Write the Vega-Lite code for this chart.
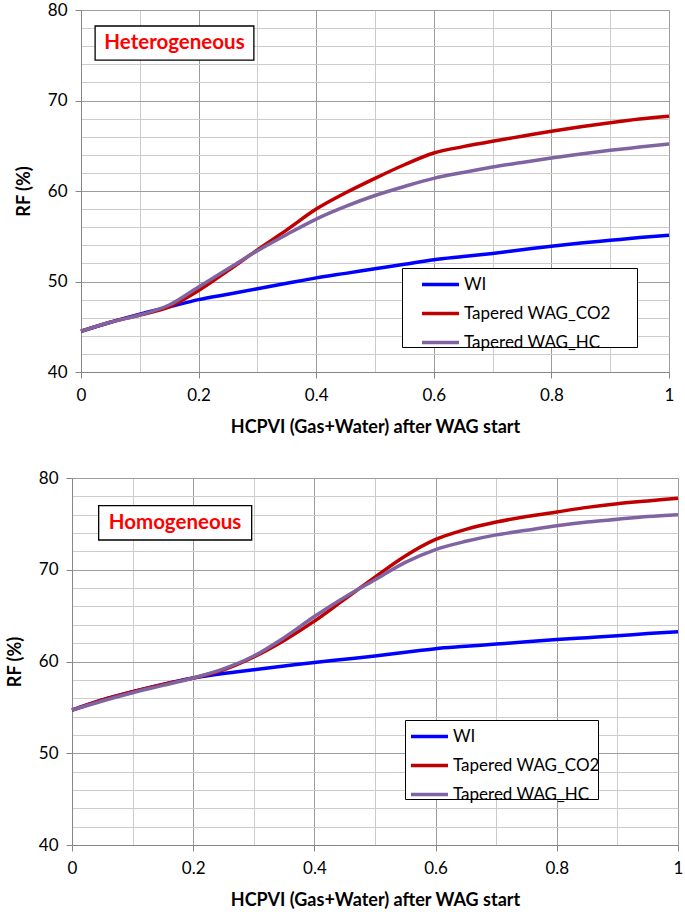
{
  "$schema": "https://vega.github.io/schema/vega-lite/v6.json",
  "background": "white",
  "padding": {"left": 6, "top": 1, "right": 3, "bottom": 0},
  "spacing": 33,
  "center": true,
  "resolve": {"scale": {"color": "independent"}, "legend": {"color": "independent"}},
  "config": {
    "view": {"stroke": null},
    "font": "Lato",
    "axis": {
      "labelFont": "Lato", "labelFontSize": 17, "labelColor": "black", "labelOverlap": false, "labelFlush": false,
      "titleFont": "Lato", "titleFontSize": 18, "titleFontWeight": "bold", "titleColor": "black",
      "domainColor": "#868686", "tickColor": "#868686", "tickSize": 6, "gridWidth": 1, "format": "~g", "tickCount": 100
    },
    "legend": {
      "strokeColor": "black", "fillColor": "white", "padding": -4,
      "symbolType": "stroke", "symbolSize": 1369, "symbolStrokeWidth": 3.5,
      "labelFont": "Lato", "labelFontSize": 17, "labelColor": "black", "labelOffset": 3, "rowPadding": -8, "labelLimit": 400
    }
  },
  "datasets": {
    "top": [
      {"x": 0, "WI": 44.5, "Tapered WAG_CO2": 44.5, "Tapered WAG_HC": 44.5},
      {"x": 0.05, "WI": 45.5, "Tapered WAG_CO2": 45.5, "Tapered WAG_HC": 45.5},
      {"x": 0.1, "WI": 46.4, "Tapered WAG_CO2": 46.3, "Tapered WAG_HC": 46.3},
      {"x": 0.15, "WI": 47.2, "Tapered WAG_CO2": 47.2, "Tapered WAG_HC": 47.4},
      {"x": 0.2, "WI": 48.0, "Tapered WAG_CO2": 49.0, "Tapered WAG_HC": 49.4},
      {"x": 0.25, "WI": 48.6, "Tapered WAG_CO2": 51.2, "Tapered WAG_HC": 51.4},
      {"x": 0.3, "WI": 49.2, "Tapered WAG_CO2": 53.5, "Tapered WAG_HC": 53.4},
      {"x": 0.35, "WI": 49.8, "Tapered WAG_CO2": 55.7, "Tapered WAG_HC": 55.2},
      {"x": 0.4, "WI": 50.4, "Tapered WAG_CO2": 58.0, "Tapered WAG_HC": 56.9},
      {"x": 0.45, "WI": 50.9, "Tapered WAG_CO2": 59.8, "Tapered WAG_HC": 58.3},
      {"x": 0.5, "WI": 51.4, "Tapered WAG_CO2": 61.4, "Tapered WAG_HC": 59.5},
      {"x": 0.55, "WI": 51.9, "Tapered WAG_CO2": 62.9, "Tapered WAG_HC": 60.5},
      {"x": 0.6, "WI": 52.4, "Tapered WAG_CO2": 64.2, "Tapered WAG_HC": 61.4},
      {"x": 0.65, "WI": 52.75, "Tapered WAG_CO2": 64.9, "Tapered WAG_HC": 62.05},
      {"x": 0.7, "WI": 53.1, "Tapered WAG_CO2": 65.5, "Tapered WAG_HC": 62.65},
      {"x": 0.75, "WI": 53.5, "Tapered WAG_CO2": 66.05, "Tapered WAG_HC": 63.15},
      {"x": 0.8, "WI": 53.9, "Tapered WAG_CO2": 66.6, "Tapered WAG_HC": 63.65},
      {"x": 0.85, "WI": 54.25, "Tapered WAG_CO2": 67.1, "Tapered WAG_HC": 64.1},
      {"x": 0.9, "WI": 54.55, "Tapered WAG_CO2": 67.55, "Tapered WAG_HC": 64.5},
      {"x": 0.95, "WI": 54.85, "Tapered WAG_CO2": 67.95, "Tapered WAG_HC": 64.85},
      {"x": 1, "WI": 55.1, "Tapered WAG_CO2": 68.25, "Tapered WAG_HC": 65.2}
    ],
    "bottom": [
      {"x": 0, "WI": 54.7, "Tapered WAG_CO2": 54.7, "Tapered WAG_HC": 54.7},
      {"x": 0.05, "WI": 55.8, "Tapered WAG_CO2": 55.8, "Tapered WAG_HC": 55.7},
      {"x": 0.1, "WI": 56.7, "Tapered WAG_CO2": 56.7, "Tapered WAG_HC": 56.6},
      {"x": 0.15, "WI": 57.5, "Tapered WAG_CO2": 57.5, "Tapered WAG_HC": 57.4},
      {"x": 0.2, "WI": 58.2, "Tapered WAG_CO2": 58.2, "Tapered WAG_HC": 58.2},
      {"x": 0.25, "WI": 58.7, "Tapered WAG_CO2": 59.1, "Tapered WAG_HC": 59.2},
      {"x": 0.3, "WI": 59.1, "Tapered WAG_CO2": 60.5, "Tapered WAG_HC": 60.6},
      {"x": 0.35, "WI": 59.5, "Tapered WAG_CO2": 62.3, "Tapered WAG_HC": 62.6},
      {"x": 0.4, "WI": 59.9, "Tapered WAG_CO2": 64.4, "Tapered WAG_HC": 64.9},
      {"x": 0.45, "WI": 60.25, "Tapered WAG_CO2": 66.8, "Tapered WAG_HC": 67.0},
      {"x": 0.5, "WI": 60.6, "Tapered WAG_CO2": 69.2, "Tapered WAG_HC": 68.9},
      {"x": 0.55, "WI": 61.0, "Tapered WAG_CO2": 71.5, "Tapered WAG_HC": 70.8},
      {"x": 0.6, "WI": 61.4, "Tapered WAG_CO2": 73.3, "Tapered WAG_HC": 72.2},
      {"x": 0.65, "WI": 61.65, "Tapered WAG_CO2": 74.4, "Tapered WAG_HC": 73.1},
      {"x": 0.7, "WI": 61.9, "Tapered WAG_CO2": 75.2, "Tapered WAG_HC": 73.8},
      {"x": 0.75, "WI": 62.15, "Tapered WAG_CO2": 75.8, "Tapered WAG_HC": 74.3},
      {"x": 0.8, "WI": 62.4, "Tapered WAG_CO2": 76.3, "Tapered WAG_HC": 74.8},
      {"x": 0.85, "WI": 62.6, "Tapered WAG_CO2": 76.8, "Tapered WAG_HC": 75.2},
      {"x": 0.9, "WI": 62.8, "Tapered WAG_CO2": 77.2, "Tapered WAG_HC": 75.5},
      {"x": 0.95, "WI": 63.05, "Tapered WAG_CO2": 77.5, "Tapered WAG_HC": 75.8},
      {"x": 1, "WI": 63.25, "Tapered WAG_CO2": 77.8, "Tapered WAG_HC": 76.0}
    ]
  },
  "vconcat": [
    {
      "width": 588,
      "height": 362,
      "data": {"name": "top"},
      "transform": [{"fold": ["WI", "Tapered WAG_CO2", "Tapered WAG_HC"], "as": ["series", "rf"]}],
      "layer": [
        {
          "mark": {"type": "line", "strokeWidth": 3.5, "interpolate": "monotone"},
          "encoding": {
            "x": {
              "field": "x", "type": "quantitative", "title": "HCPVI (Gas+Water) after WAG start",
              "scale": {"domain": [0, 1], "nice": false},
              "axis": {
                "values": [0, 0.1, 0.2, 0.3, 0.4, 0.5, 0.6, 0.7, 0.8, 0.9, 1],
                "labelExpr": "round(datum.value*10) % 2 === 0 ? datum.label : ''",
                "gridColor": {"condition": {"test": "round(datum.value*10) % 2 === 0", "value": "#9C9C9C"}, "value": "#CCCCCC"},
                "tickOpacity": {"condition": {"test": "round(datum.value*10) % 2 === 0", "value": 1}, "value": 0},
                "labelPadding": 9, "titlePadding": 15
              }
            },
            "y": {
              "field": "rf", "type": "quantitative", "title": "RF (%)",
              "scale": {"domain": [40, 80], "nice": false},
              "axis": {
                "values": [40, 42, 44, 46, 48, 50, 52, 54, 56, 58, 60, 62, 64, 66, 68, 70, 72, 74, 76, 78, 80],
                "labelExpr": "datum.value % 10 === 0 ? datum.label : ''",
                "gridColor": {"condition": {"test": "datum.value % 10 === 0", "value": "#9C9C9C"}, "value": "#CCCCCC"},
                "tickOpacity": {"condition": {"test": "datum.value % 10 === 0", "value": 1}, "value": 0},
                "labelPadding": 8, "titlePadding": 14
              }
            },
            "color": {
              "field": "series", "type": "nominal",
              "scale": {"domain": ["WI", "Tapered WAG_CO2", "Tapered WAG_HC"], "range": ["#0000FF", "#C00000", "#8064A2"]},
              "legend": {"title": "\u00a0", "titleOrient": "right", "titlePadding": 30, "titleFontSize": 10, "orient": "none", "legendX": 321, "legendY": 258, "symbolOffset": 22}
            }
          }
        },
        {
          "data": {"values": [{}]},
          "mark": {"type": "rect", "fill": "white", "stroke": "black", "strokeWidth": 1.3},
          "encoding": {
            "x": {"datum": 0.024, "type": "quantitative", "title": "HCPVI (Gas+Water) after WAG start"},
            "x2": {"datum": 0.294},
            "y": {"datum": 78.23, "type": "quantitative", "title": "RF (%)"},
            "y2": {"datum": 74.47}
          }
        },
        {
          "data": {"values": [{"label": "Heterogeneous"}]},
          "mark": {"type": "text", "font": "Lato", "fontSize": 20.5, "fontWeight": "bold", "color": "#FF0000", "align": "center", "baseline": "middle"},
          "encoding": {
            "x": {"datum": 0.159, "type": "quantitative", "title": "HCPVI (Gas+Water) after WAG start"},
            "y": {"datum": 76.35, "type": "quantitative", "title": "RF (%)"},
            "text": {"field": "label"}
          }
        }
      ]
    },
    {
      "width": 606,
      "height": 367,
      "data": {"name": "bottom"},
      "transform": [{"fold": ["WI", "Tapered WAG_CO2", "Tapered WAG_HC"], "as": ["series", "rf"]}],
      "layer": [
        {
          "mark": {"type": "line", "strokeWidth": 3.5, "interpolate": "monotone"},
          "encoding": {
            "x": {
              "field": "x", "type": "quantitative", "title": "HCPVI (Gas+Water) after WAG start",
              "scale": {"domain": [0, 1], "nice": false},
              "axis": {
                "values": [0, 0.1, 0.2, 0.3, 0.4, 0.5, 0.6, 0.7, 0.8, 0.9, 1],
                "labelExpr": "round(datum.value*10) % 2 === 0 ? datum.label : ''",
                "gridColor": {"condition": {"test": "round(datum.value*10) % 2 === 0", "value": "#9C9C9C"}, "value": "#CCCCCC"},
                "tickOpacity": {"condition": {"test": "round(datum.value*10) % 2 === 0", "value": 1}, "value": 0},
                "labelPadding": 9, "titlePadding": 15
              }
            },
            "y": {
              "field": "rf", "type": "quantitative", "title": "RF (%)",
              "scale": {"domain": [40, 80], "nice": false},
              "axis": {
                "values": [40, 42, 44, 46, 48, 50, 52, 54, 56, 58, 60, 62, 64, 66, 68, 70, 72, 74, 76, 78, 80],
                "labelExpr": "datum.value % 10 === 0 ? datum.label : ''",
                "gridColor": {"condition": {"test": "datum.value % 10 === 0", "value": "#9C9C9C"}, "value": "#CCCCCC"},
                "tickOpacity": {"condition": {"test": "datum.value % 10 === 0", "value": 1}, "value": 0},
                "labelPadding": 8, "titlePadding": 14
              }
            },
            "color": {
              "field": "series", "type": "nominal",
              "scale": {"domain": ["WI", "Tapered WAG_CO2", "Tapered WAG_HC"], "range": ["#0000FF", "#C00000", "#8064A2"]},
              "legend": {"title": "\u00a0", "titleOrient": "right", "titlePadding": 2, "titleFontSize": 10, "orient": "none", "legendX": 333, "legendY": 242, "symbolOffset": 8}
            }
          }
        },
        {
          "data": {"values": [{}]},
          "mark": {"type": "rect", "fill": "white", "stroke": "black", "strokeWidth": 1.3},
          "encoding": {
            "x": {"datum": 0.044, "type": "quantitative", "title": "HCPVI (Gas+Water) after WAG start"},
            "x2": {"datum": 0.2965},
            "y": {"datum": 76.98, "type": "quantitative", "title": "RF (%)"},
            "y2": {"datum": 73.24}
          }
        },
        {
          "data": {"values": [{"label": "Homogeneous"}]},
          "mark": {"type": "text", "font": "Lato", "fontSize": 20.5, "fontWeight": "bold", "color": "#FF0000", "align": "center", "baseline": "middle"},
          "encoding": {
            "x": {"datum": 0.170, "type": "quantitative", "title": "HCPVI (Gas+Water) after WAG start"},
            "y": {"datum": 75.1, "type": "quantitative", "title": "RF (%)"},
            "text": {"field": "label"}
          }
        }
      ]
    }
  ]
}
